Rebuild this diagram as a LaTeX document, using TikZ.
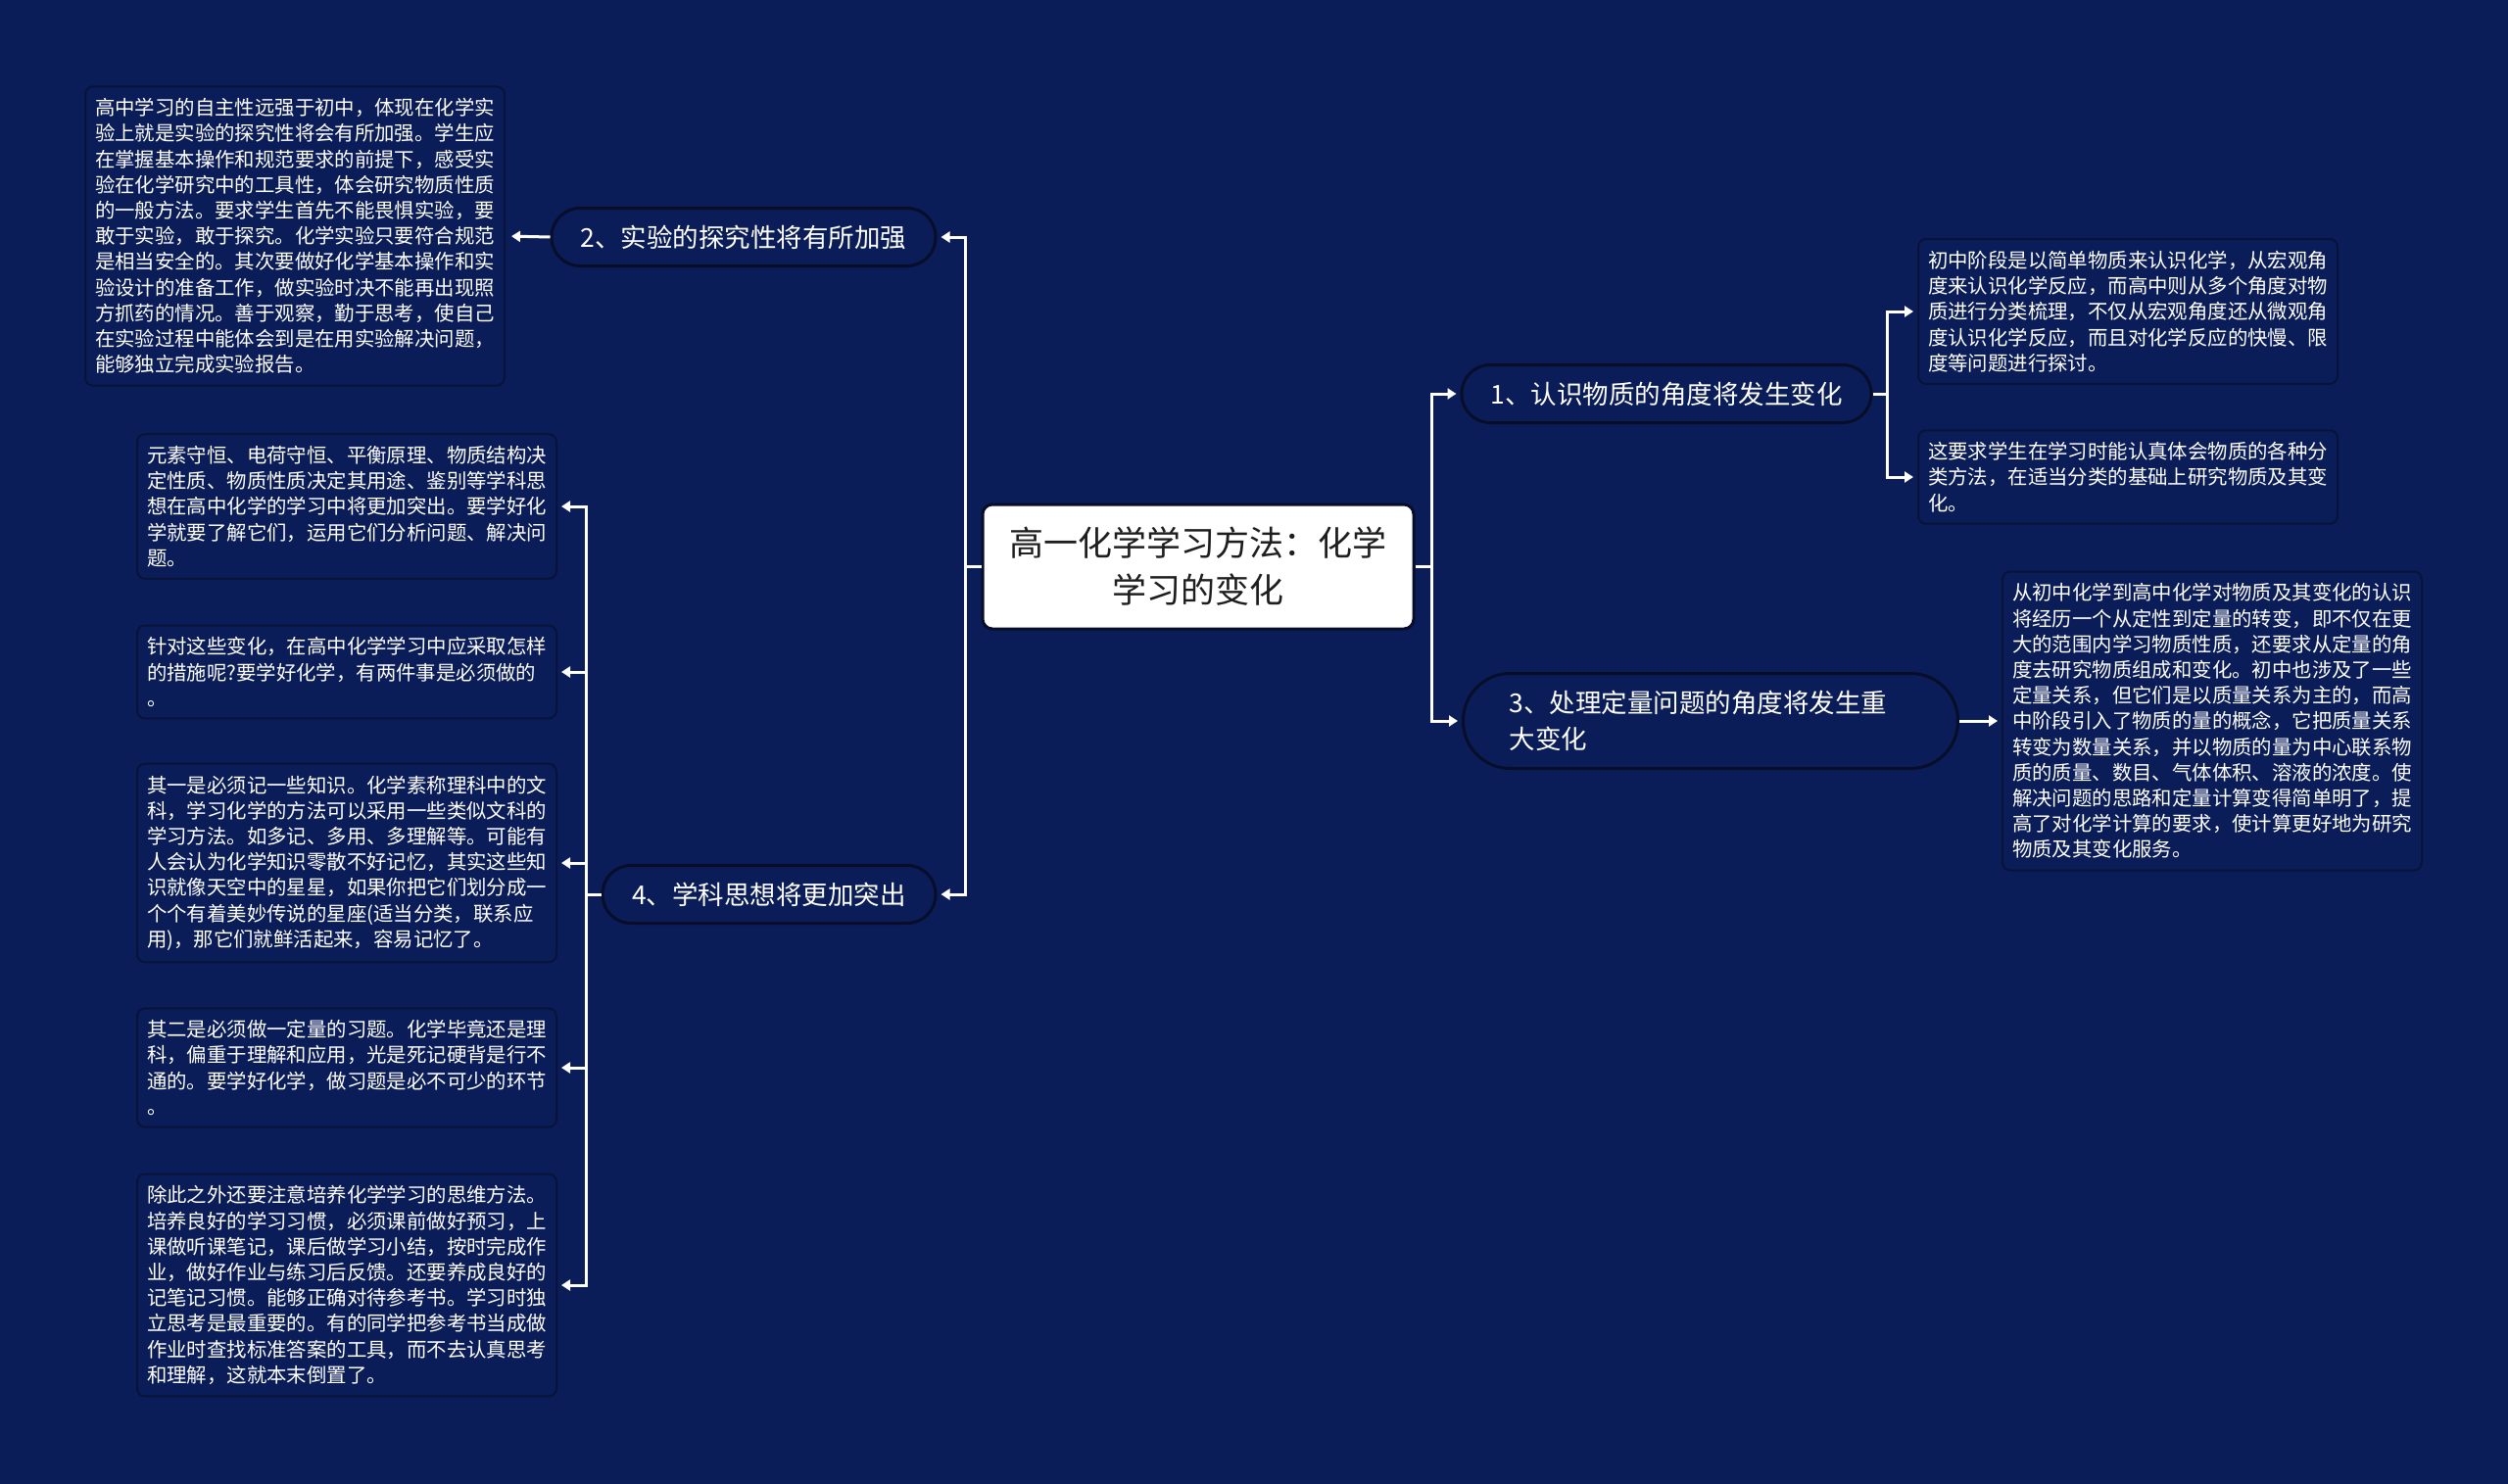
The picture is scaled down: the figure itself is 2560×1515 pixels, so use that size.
\documentclass[tikz,border=0pt]{standalone}
\usepackage{fontspec}
\setmainfont{Noto Sans CJK SC}
\usetikzlibrary{arrows.meta}
\definecolor{bg}{RGB}{11,29,88}
\definecolor{edgedark}{RGB}{8,14,42}
\definecolor{leafedge}{RGB}{9,19,58}
\definecolor{roottext}{RGB}{30,30,30}
\tikzset{
  conn/.style={draw=white, line width=1.5pt},
  arr/.style={conn, -{Triangle[length=4.5pt,width=5.5pt]}, shorten >=2pt},
  leaf/.style={draw=leafedge, line width=1pt, fill=bg, rounded corners=4pt, text=white,
    align=left, inner xsep=5pt, inner ysep=6pt, font=\fontsize{10.2pt}{13.1pt}\selectfont},
  topic/.style={draw=edgedark, line width=1.5pt, fill=bg, text=white, rounded corners=14.5pt,
    minimum height=29.5pt, font=\fontsize{13.25pt}{16pt}\selectfont},
  rootbox/.style={draw=edgedark, line width=1.5pt, fill=white, text=roottext, rounded corners=5pt,
    minimum width=220pt, minimum height=63.5pt, align=center, font=\fontsize{17.5pt}{24pt}\selectfont}
}
\begin{document}
\begin{tikzpicture}[x=0.5pt,y=-0.5pt]
\fill[bg] (0,0) rectangle (2560,1515);
\useasboundingbox (0,0) rectangle (2560,1515);

% root
\node[rootbox] (root) at (1223,578.5) {高一化学学习方法：化学\\学习的变化};

% topics
\node[topic, minimum width=209pt] (n1) at (1701,402) {1、认识物质的角度将发生变化};
\node[topic, minimum width=196pt] (n2) at (759,242) {2、实验的探究性将有所加强};
\node[topic, minimum width=170pt] (n4) at (785,913) {4、学科思想将更加突出};
\node[topic, anchor=west, rounded corners=24pt, minimum height=48.5pt, text width=205.5pt,
  inner xsep=23.5pt, align=left, font=\fontsize{13.25pt}{18.5pt}\selectfont]
  (n3) at (1492,736) {3、处理定量问题的角度将发生重\\大变化};

% leaves
\node[leaf, anchor=east] (l2) at (516,241) {高中学习的自主性远强于初中，体现在化学实\\验上就是实验的探究性将会有所加强。学生应\\在掌握基本操作和规范要求的前提下，感受实\\验在化学研究中的工具性，体会研究物质性质\\的一般方法。要求学生首先不能畏惧实验，要\\敢于实验，敢于探究。化学实验只要符合规范\\是相当安全的。其次要做好化学基本操作和实\\验设计的准备工作，做实验时决不能再出现照\\方抓药的情况。善于观察，勤于思考，使自己\\在实验过程中能体会到是在用实验解决问题，\\能够独立完成实验报告。};

\node[leaf, anchor=east] (l4a) at (569,517) {元素守恒、电荷守恒、平衡原理、物质结构决\\定性质、物质性质决定其用途、鉴别等学科思\\想在高中化学的学习中将更加突出。要学好化\\学就要了解它们，运用它们分析问题、解决问\\题。};
\node[leaf, anchor=east] (l4b) at (569,686) {针对这些变化，在高中化学学习中应采取怎样\\的措施呢?要学好化学，有两件事是必须做的\\。};
\node[leaf, anchor=east] (l4c) at (569,881) {其一是必须记一些知识。化学素称理科中的文\\科，学习化学的方法可以采用一些类似文科的\\学习方法。如多记、多用、多理解等。可能有\\人会认为化学知识零散不好记忆，其实这些知\\识就像天空中的星星，如果你把它们划分成一\\个个有着美妙传说的星座(适当分类，联系应\\用)，那它们就鲜活起来，容易记忆了。};
\node[leaf, anchor=east] (l4d) at (569,1090) {其二是必须做一定量的习题。化学毕竟还是理\\科，偏重于理解和应用，光是死记硬背是行不\\通的。要学好化学，做习题是必不可少的环节\\。};
\node[leaf, anchor=east] (l4e) at (569,1312) {除此之外还要注意培养化学学习的思维方法。\\培养良好的学习习惯，必须课前做好预习，上\\课做听课笔记，课后做学习小结，按时完成作\\业，做好作业与练习后反馈。还要养成良好的\\记笔记习惯。能够正确对待参考书。学习时独\\立思考是最重要的。有的同学把参考书当成做\\作业时查找标准答案的工具，而不去认真思考\\和理解，这就本末倒置了。};

\node[leaf, anchor=west] (l1a) at (1957,318) {初中阶段是以简单物质来认识化学，从宏观角\\度来认识化学反应，而高中则从多个角度对物\\质进行分类梳理，不仅从宏观角度还从微观角\\度认识化学反应，而且对化学反应的快慢、限\\度等问题进行探讨。};
\node[leaf, anchor=west] (l1b) at (1957,487) {这要求学生在学习时能认真体会物质的各种分\\类方法，在适当分类的基础上研究物质及其变\\化。};
\node[leaf, anchor=west] (l3) at (2043,736) {从初中化学到高中化学对物质及其变化的认识\\将经历一个从定性到定量的转变，即不仅在更\\大的范围内学习物质性质，还要求从定量的角\\度去研究物质组成和变化。初中也涉及了一些\\定量关系，但它们是以质量关系为主的，而高\\中阶段引入了物质的量的概念，它把质量关系\\转变为数量关系，并以物质的量为中心联系物\\质的质量、数目、气体体积、溶液的浓度。使\\解决问题的思路和定量计算变得简单明了，提\\高了对化学计算的要求，使计算更好地为研究\\物质及其变化服务。};

% junctions
\coordinate (lj) at (985,578.5);
\coordinate (rj) at (1461,578.5);
\coordinate (j4) at (598,913);
\coordinate (j1) at (1926,402);

% connectors
\draw[conn] (root.west) -- (lj);
\draw[arr] (lj) |- (n2.east);
\draw[arr] (lj) |- (n4.east);
\draw[conn] (root.east) -- (rj);
\draw[arr] (rj) |- (n1.west);
\draw[arr] (rj) |- (n3.west);
\draw[arr, shorten >=3pt] (n2.west) -- (l2.east);
\draw[conn] (n4.west) -- (j4);
\draw[arr] (j4) |- (l4a.east);
\draw[arr] (j4) |- (l4b.east);
\draw[arr] (j4) |- (l4c.east);
\draw[arr] (j4) |- (l4d.east);
\draw[arr] (j4) |- (l4e.east);
\draw[conn] (n1.east) -- (j1);
\draw[arr] (j1) |- (l1a.west);
\draw[arr] (j1) |- (l1b.west);
\draw[arr] (n3.east) -- (l3.west);
\end{tikzpicture}
\end{document}
